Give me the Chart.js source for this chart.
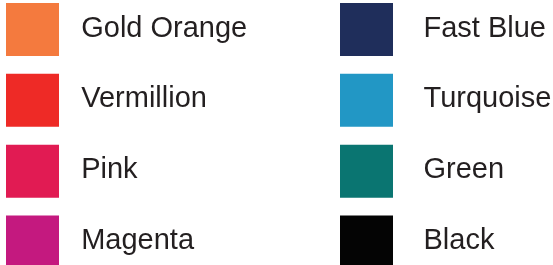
<!DOCTYPE html>
<html>
<head>
<meta charset="utf-8">
<script src="https://cdn.jsdelivr.net/npm/chart.js@4/dist/chart.umd.min.js"></script>
<style>
  html, body { margin: 0; padding: 0; background: #ffffff; }
  #c { display: block; }
</style>
</head>
<body>
<canvas id="c" width="553" height="265"></canvas>
<script>
// ---- data ----
const categories = ['Gold Orange', 'Vermillion', 'Pink', 'Magenta', 'Fast Blue', 'Turquoise', 'Green', 'Black'];
const columns = [0, 0, 0, 0, 1, 1, 1, 1];
const rows = [0, 1, 2, 3, 0, 1, 2, 3];
const swatchColors = ['#F47A3E', '#EE2A26', '#E11B53', '#C4197F', '#1F2E5B', '#2297C5', '#0A7571', '#040404'];

const points = categories.map((name, i) => ({ x: columns[i], y: rows[i] }));

const swatchLabels = {
  id: 'swatchLabels',
  afterDatasetsDraw(chart, args, opts) {
    const meta = chart.getDatasetMeta(0);
    const ctx = chart.ctx;
    ctx.save();
    ctx.font = opts.font;
    ctx.fillStyle = opts.color;
    ctx.textBaseline = 'middle';
    ctx.textAlign = 'left';
    meta.data.forEach((pt, i) => {
      ctx.fillText(categories[i], pt.x + opts.offsets[columns[i]], pt.y + opts.dy);
    });
    ctx.restore();
  }
};

new Chart(document.getElementById('c'), {
  type: 'scatter',
  data: {
    datasets: [{
      label: 'Colours',
      data: points,
      pointStyle: 'rect',
      pointRadius: 53 / Math.SQRT2,
      pointHoverRadius: 53 / Math.SQRT2,
      pointBorderWidth: 0,
      backgroundColor: swatchColors,
      borderColor: swatchColors,
      showLine: false,
      clip: false
    }]
  },
  options: {
    responsive: false,
    animation: false,
    devicePixelRatio: 1,
    events: [],
    layout: { autoPadding: false, padding: { left: 32.5, right: 186.5, top: 29.4, bottom: 23 } },
    scales: {
      x: { type: 'linear', min: 0, max: 1, display: false },
      y: { type: 'linear', min: 0, max: 3, reverse: true, display: false }
    },
    plugins: {
      legend: { display: false },
      tooltip: { enabled: false },
      swatchLabels: {
        font: '29px "Liberation Sans", Arial, sans-serif',
        color: '#231F20',
        offsets: [48.7, 57],
        dy: -0.8
      }
    }
  },
  plugins: [swatchLabels]
});
</script>
</body>
</html>
